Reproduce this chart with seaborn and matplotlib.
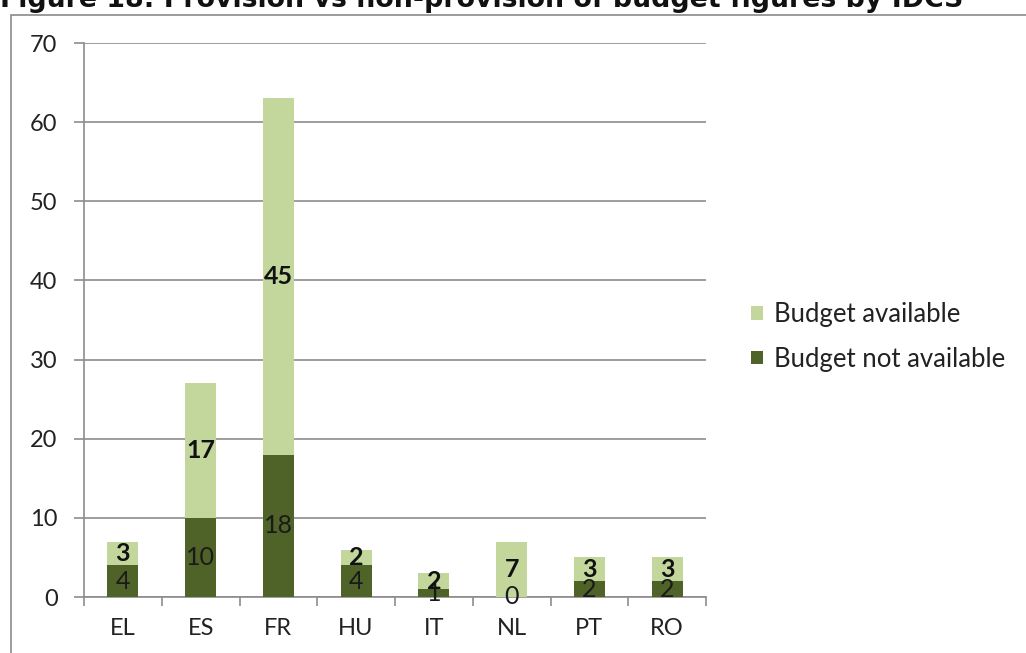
import matplotlib
matplotlib.use("Agg")
import matplotlib.pyplot as plt
from matplotlib.patches import Rectangle, Patch
import seaborn as sns
import pandas as pd

countries = ["EL", "ES", "FR", "HU", "IT", "NL", "PT", "RO"]
budget_not_available = [4, 10, 18, 4, 1, 0, 2, 2]
budget_available = [3, 17, 45, 2, 2, 7, 3, 3]
y_ticks = [0, 10, 20, 30, 40, 50, 60, 70]

LIGHT = "#c3d69b"
DARK = "#4f6228"
GRID = "#8c8c8c"

sns.set_theme(style="white")
plt.rcParams["font.family"] = ["Lato", "DejaVu Sans"]

df = pd.DataFrame({
    "country": countries,
    "not_avail": budget_not_available,
    "avail": budget_available,
})
df["total"] = df["not_avail"] + df["avail"]

fig = plt.figure(figsize=(10.26, 6.53), dpi=100)
fig.patch.set_facecolor("white")

# chart frame
fig.add_artist(Rectangle((11 / 1026, -0.05), 1.1, 1 - 15 / 653 + 0.05,
                         transform=fig.transFigure, fill=False,
                         edgecolor="#8a8a8a", linewidth=1.2))

# title, partly clipped by the top edge
fig.text(0.0, 1 - 7 / 653, "Figure 18: Provision vs non-provision of budget figures by IDCS",
         fontsize=19.3, fontweight="bold", family="DejaVu Sans", color="#111111",
         ha="left", va="baseline")

ax = fig.add_axes([84 / 1026, 1 - 597 / 653, (706 - 84) / 1026, (597 - 43) / 653])

sns.barplot(data=df, x="country", y="total", color=LIGHT, width=0.4,
            saturation=1, ax=ax, zorder=3)
sns.barplot(data=df, x="country", y="not_avail", color=DARK, width=0.4,
            saturation=1, ax=ax, zorder=4)
for p in ax.patches:
    p.set_linewidth(0)

ax.set_ylim(0, 70)
ax.set_xlim(-0.5, len(countries) - 0.5)
ax.set_yticks(y_ticks)
ax.yaxis.grid(True, color=GRID, linewidth=1.2, zorder=0)
ax.set_axisbelow(True)
ax.set_xlabel("")
ax.set_ylabel("")

for s in ["top", "right"]:
    ax.spines[s].set_visible(False)
for s in ["left", "bottom"]:
    ax.spines[s].set_color(GRID)
    ax.spines[s].set_linewidth(1.2)

ax.tick_params(axis="y", which="major", length=7, width=1.2, color=GRID,
               labelsize=17, labelcolor="#222222", pad=12, left=True)
ax.set_xticks(range(len(countries)))
ax.set_xticklabels(countries)
ax.set_xticks([i - 0.5 for i in range(len(countries) + 1)], minor=True)
ax.tick_params(axis="x", which="major", length=0, labelsize=17,
               labelcolor="#222222", pad=15)
ax.tick_params(axis="x", which="minor", length=6.5, width=1.2, color=GRID,
               bottom=True)

# segment value labels
for i, row in df.iterrows():
    ax.text(i, row["not_avail"] / 2, str(row["not_avail"]), ha="center",
            va="center", fontsize=18, color="#1a1a1a", zorder=5)
    ax.text(i, row["not_avail"] + row["avail"] / 2, str(row["avail"]),
            ha="center", va="center", fontsize=18, fontweight="bold",
            color="#111111", zorder=5)

handles = [Patch(facecolor=LIGHT, edgecolor="none", label="Budget available"),
           Patch(facecolor=DARK, edgecolor="none", label="Budget not available")]
fig.legend(handles=handles, loc="center left",
           bbox_to_anchor=(728 / 1026, 1 - 337 / 653), frameon=False,
           fontsize=18.5, handlelength=0.45, handleheight=0.45,
           handletextpad=0.45, labelspacing=0.75, labelcolor="#222222")

fig.savefig("out.png", dpi=100, facecolor="white")
